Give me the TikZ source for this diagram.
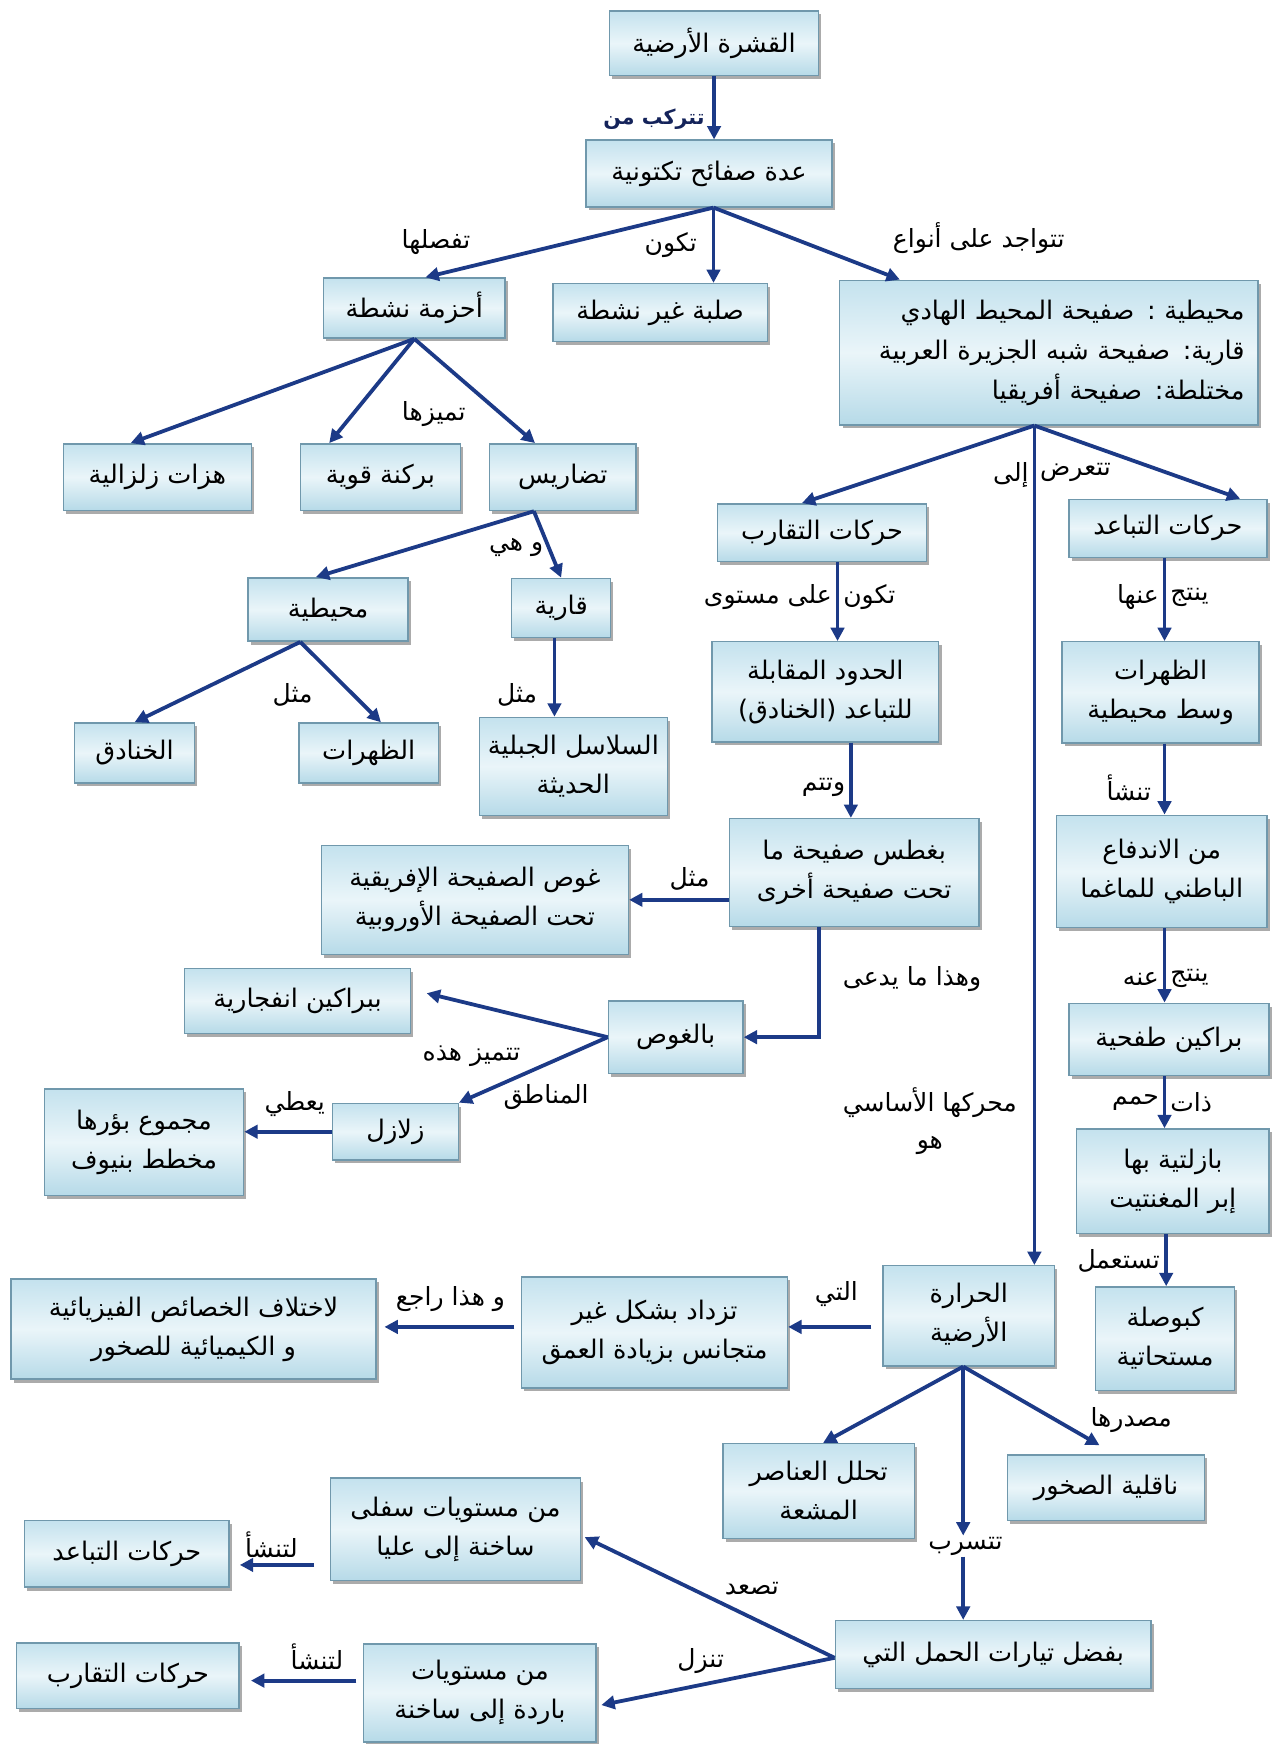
\documentclass[tikz,border=0pt]{standalone}
\usepackage{fontspec}
\newfontfamily\ar[Script=Arabic]{DejaVu Sans}
\TeXXeTstate=1
\usetikzlibrary{arrows.meta,shadows,calc}
\newcommand{\AR}[1]{\beginR#1\endR}
\definecolor{arrowc}{RGB}{28,58,135}
\definecolor{boxborder}{RGB}{112,152,172}
\definecolor{boxtop}{RGB}{196,226,238}
\definecolor{boxmid}{RGB}{234,245,249}
\definecolor{boxbot}{RGB}{182,218,232}
\definecolor{lblnavy}{RGB}{20,35,90}
\begin{document}
\begin{tikzpicture}[x=1pt,y=-1pt,
  box/.style={draw=boxborder, line width=1.3pt, top color=boxtop, bottom color=boxbot, middle color=boxmid,
    drop shadow={shadow xshift=2.5pt,shadow yshift=-3pt,fill=black!55,opacity=0.6},
    inner sep=2pt, align=center, text=black, font=\ar\fontsize{23}{35}\selectfont},
  sz/.style 2 args={minimum width=#1pt, minimum height=#2pt},
  lbl/.style={font=\ar\fontsize{22.5}{34}\selectfont, inner sep=1pt, text=black},
  arr/.style={draw=arrowc, line width=3.4pt, -{Triangle[length=12pt,width=12pt]}}]
\fill[white] (0,0) rectangle (1144,1568);
\useasboundingbox (0,0) rectangle (1144,1568);

% ---------- boxes ----------
\node[box,sz={188}{58}] (crust) at (642,39) {\AR{القشرة الأرضية}};
\node[box,sz={221}{60}] (plates) at (637.5,156) {\AR{عدة صفائح تكتونية}};
\node[box,sz={163}{54}] (belts) at (372.5,277) {\AR{أحزمة نشطة}};
\node[box,sz={193}{52}] (solid) at (593.5,281) {\AR{صلبة غير نشطة}};
\node[box,sz={376}{130},text width=352pt,align=right,font=\ar\fontsize{23}{36}\selectfont] (types) at (943,317)
  {\AR{محيطية : صفيحة المحيط الهادي}\\\AR{قارية: صفيحة شبه الجزيرة العربية}\\\AR{مختلطة: صفيحة أفريقيا}};
\node[box,sz={169}{60}] (quakes) at (141.5,429) {\AR{هزات زلزالية}};
\node[box,sz={144}{60}] (volc) at (342,429) {\AR{بركنة قوية}};
\node[box,sz={132}{60}] (relief) at (506,429) {\AR{تضاريس}};
\node[box,sz={144}{57}] (oceanic) at (295,548) {\AR{محيطية}};
\node[box,sz={89}{53}] (contin) at (504.5,546.5) {\AR{قارية}};
\node[box,sz={108}{54}] (trenches) at (121,677) {\AR{الخنادق}};
\node[box,sz={125}{54}] (ridges) at (331.5,677) {\AR{الظهرات}};
\node[box,sz={169}{88}] (mountains) at (515.5,689) {\AR{السلاسل الجبلية}\\\AR{الحديثة}};
\node[box,sz={188}{52}] (convergence) at (739,479) {\AR{حركات التقارب}};
\node[box,sz={178}{52}] (divergence) at (1050,475) {\AR{حركات التباعد}};
\node[box,sz={204}{90}] (boundaries) at (742,622) {\AR{الحدود المقابلة}\\\AR{للتباعد (الخنادق)}};
\node[box,sz={224}{97}] (subduct) at (768,784.5) {\AR{بغطس صفيحة ما}\\\AR{تحت صفيحة أخرى}};
\node[box,sz={177}{91}] (ridges2) at (1043.5,622.5) {\AR{الظهرات}\\\AR{وسط محيطية}};
\node[box,sz={189}{101}] (magma) at (1044.5,783.5) {\AR{من الاندفاع}\\\AR{الباطني للماغما}};
\node[box,sz={276}{98}] (africa) at (427,809) {\AR{غوص الصفيحة الإفريقية}\\\AR{تحت الصفيحة الأوروبية}};
\node[box,sz={121}{65}] (subduction) at (607.5,932.5) {\AR{بالغوص}};
\node[box,sz={203}{58}] (explosive) at (267.5,900) {\AR{ببراكين انفجارية}};
\node[box,sz={113}{51}] (quakes2) at (355.5,1017.5) {\AR{زلازل}};
\node[box,sz={179}{96}] (benioff) at (129.5,1027) {\AR{مجموع بؤرها}\\\AR{مخطط بنيوف}};
\node[box,sz={180}{65}] (effusive) at (1051,934.5) {\AR{براكين طفحية}};
\node[box,sz={173}{94}] (basalt) at (1054.5,1062) {\AR{بازلتية  بها}\\\AR{إبر المغنتيت}};
\node[box,sz={125}{93}] (compass) at (1047.5,1203.5) {\AR{كبوصلة}\\\AR{مستحاتية}};
\node[box,sz={154}{90}] (heat) at (871,1183) {\AR{الحرارة}\\\AR{الأرضية}};
\node[box,sz={239}{100}] (increase) at (588.5,1198) {\AR{تزداد بشكل غير}\\\AR{متجانس بزيادة العمق}};
\node[box,sz={328}{90}] (differ) at (174,1195) {\AR{لاختلاف الخصائص الفيزيائية}\\\AR{و الكيميائية للصخور}};
\node[box,sz={172}{85}] (radio) at (736,1340.5) {\AR{تحلل العناصر}\\\AR{المشعة}};
\node[box,sz={177}{59}] (conduct) at (994.5,1337.5) {\AR{ناقلية الصخور}};
\node[box,sz={284}{61}] (convection) at (893,1487.5) {\AR{بفضل تيارات الحمل التي}};
\node[box,sz={225}{92}] (hotup) at (409.5,1375) {\AR{من مستويات سفلى}\\\AR{ساخنة إلى عليا}};
\node[box,sz={184}{60}] (divb) at (114,1397) {\AR{حركات التباعد}};
\node[box,sz={209}{88}] (colddown) at (431.5,1522) {\AR{من مستويات}\\\AR{باردة إلى ساخنة}};
\node[box,sz={200}{59}] (convb) at (115,1506.5) {\AR{حركات التقارب}};

% ---------- labels ----------
\node[lbl,text=lblnavy,font=\ar\bfseries\fontsize{18.5}{24}\selectfont] (lcomp) at (588,107) {\AR{تتركب من}};
\node[lbl] (lsep) at (392,218) {\AR{تفصلها}};
\node[lbl] (lare) at (603,220) {\AR{تكون}};
\node[lbl] (lexist) at (880,214) {\AR{تتواجد على أنواع}};
\node[lbl] (ldist) at (390,372) {\AR{تميزها}};
\node[lbl] (lwhich) at (464,492) {\AR{و هي}};
\node[lbl] (lex1) at (263,625) {\AR{مثل}};
\node[lbl] (lex2) at (465,625) {\AR{مثل}};
\node[lbl,anchor=west] (lexpA) at (934,425) {\AR{تتعرض}};
\node[lbl,anchor=east] (lexpB) at (926,427) {\AR{إلى}};
\node[lbl,anchor=west] (lonA) at (757,537) {\AR{تكون}};
\node[lbl,anchor=east] (lonB) at (749,537) {\AR{على مستوى}};
\node[lbl,anchor=west] (lresA) at (1051,537) {\AR{ينتج}};
\node[lbl,anchor=east] (lresB) at (1043,537) {\AR{عنها}};
\node[lbl,anchor=east] (ldone) at (761,708) {\AR{وتتم}};
\node[lbl,anchor=east] (lorig) at (1036,708) {\AR{تنشأ}};
\node[lbl] (lex3) at (620,790) {\AR{مثل}};
\node[lbl] (lcalled) at (820,880) {\AR{وهذا  ما يدعى}};
\node[lbl,anchor=west] (lres2A) at (1051,880) {\AR{ينتج}};
\node[lbl,anchor=east] (lres2B) at (1043,880) {\AR{عنه}};
\node[lbl] (lzoneA) at (424,950) {\AR{تتميز هذه}};
\node[lbl] (lzoneB) at (491,986) {\AR{المناطق}};
\node[lbl] (lgive) at (265,993) {\AR{يعطي}};
\node[lbl,anchor=west] (llavaA) at (1051,991) {\AR{ذات}};
\node[lbl,anchor=east] (llavaB) at (1043,991) {\AR{حمم}};
\node[lbl,align=center] (lmotor) at (836,1008) {\AR{محركها الأساسي}\\\AR{هو}};
\node[lbl,anchor=east] (luse) at (1044,1134) {\AR{تستعمل}};
\node[lbl] (lthat) at (752,1163) {\AR{التي}};
\node[lbl] (ldue) at (405,1168) {\AR{و هذا راجع}};
\node[lbl] (lsource) at (1017,1277) {\AR{مصدرها}};
\node[lbl] (seep) at (868,1390) {\AR{تتسرب}};
\node[lbl] (lrise) at (676,1428) {\AR{تصعد}};
\node[lbl] (lsink) at (630,1493) {\AR{تنزل}};
\node[lbl] (lgen1) at (244,1389) {\AR{لتنشأ}};
\node[lbl] (lgen2) at (285,1490) {\AR{لتنشأ}};

% ---------- connectors ----------
\draw[arr] (crust.south) -- (crust.south |- plates.north);
\coordinate (ps) at ([xshift=4pt]plates.south);
\draw[arr] (ps) -- ([xshift=10pt]belts.north);
\draw[arr] (ps) -- (ps |- solid.north);
\draw[arr] (ps) -- ([xshift=-134pt]types.north);

\draw[arr] (belts.south) -- ([xshift=-24pt]quakes.north);
\draw[arr] (belts.south) -- ([xshift=-46pt]volc.north);
\draw[arr] (belts.south) -- ([xshift=-25pt]relief.north);

\coordinate (rs) at ([xshift=-26pt]relief.south);
\draw[arr] (rs) -- ([xshift=-11pt]oceanic.north);
\draw[arr] (rs) -- (contin.north);

\coordinate (os) at ([xshift=-25pt]oceanic.south);
\draw[arr] (os) -- (trenches.north);
\draw[arr] (os) -- ([xshift=11pt]ridges.north);
\coordinate (cts) at ([xshift=-6pt]contin.south);
\draw[arr] (cts) -- (cts |- mountains.north);

\coordinate (ts) at ([xshift=-13pt]types.south);
\draw[arr] (ts) -- ([xshift=-18pt]convergence.north);
\draw[arr] (ts) -- ([xshift=65pt]divergence.north);
\draw[arr] (ts) -- (ts |- heat.north);

\coordinate (cs) at ([xshift=14pt]convergence.south);
\draw[arr] (cs) -- (cs |- boundaries.north);
\coordinate (bds) at ([xshift=23pt]boundaries.south);
\draw[arr] (bds) -- (bds |- subduct.north);
\coordinate (ds) at ([xshift=-3pt]divergence.south);
\draw[arr] (ds) -- (ds |- ridges2.north);
\coordinate (r2s) at ([xshift=3.5pt]ridges2.south);
\draw[arr] (r2s) -- (r2s |- magma.north);
\coordinate (ms) at ([xshift=2.5pt]magma.south);
\draw[arr] (ms) -- (ms |- effusive.north);
\coordinate (es) at ([xshift=-4pt]effusive.south);
\draw[arr] (es) -- (es |- basalt.north);
\coordinate (bas) at ([xshift=-6pt]basalt.south);
\draw[arr] (bas) -- (bas |- compass.north);

\draw[arr] (subduct.west |- africa.east) -- (africa.east);
\draw[arr] ([xshift=-32pt]subduct.south) |- (subduction.east);
\draw[arr] (subduction.west) -- ([xshift=14pt,yshift=7pt]explosive.east);
\draw[arr] (subduction.west) -- (quakes2.north east);
\draw[arr] (quakes2.west) -- (quakes2.west -| benioff.east);

\coordinate (hw) at ([xshift=-10pt,yshift=-10pt]heat.west);
\draw[arr] (hw) -- (hw -| increase.east);
\coordinate (iw) at ([xshift=-6pt,yshift=5pt]increase.west);
\draw[arr,shorten >=7pt] (iw) -- (iw -| differ.east);

\coordinate (hs) at ([xshift=-5pt]heat.south);
\draw[arr] (hs) -- ([xshift=4pt]radio.north);
\draw[arr] (hs) -- ([xshift=-6pt,yshift=8pt]conduct.north);
\draw[arr] (hs) -- (hs |- seep.north);
\draw[arr] (seep.south -| hs) -- (hs |- convection.north);

\coordinate (cw) at ([yshift=-3pt]convection.west);
\draw[arr] (cw) -- ([xshift=3pt,yshift=-7pt]hotup.east);
\draw[arr] (cw) -- ([xshift=4pt,yshift=-11pt]colddown.east);

\coordinate (hw2) at ([xshift=-14pt,yshift=-32pt]hotup.west);
\draw[arr,shorten >=9pt] (hw2) -- (hw2 -| divb.east);
\coordinate (cw2) at ([xshift=-6pt,yshift=11pt]colddown.west);
\draw[arr,shorten >=10pt] (cw2) -- (cw2 -| convb.east);
\end{tikzpicture}
\end{document}
